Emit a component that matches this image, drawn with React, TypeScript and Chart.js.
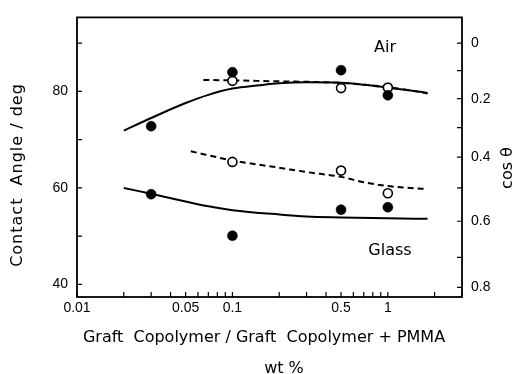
import React, { useEffect, useRef } from "react";
import { Chart, registerables } from "chart.js";

Chart.register(...registerables);

// ---- data ----
const airFilledX = [0.03, 0.1, 0.5, 1];
const airFilledY = [72.8, 84.0, 84.4, 79.2];
const airOpenX = [0.1, 0.5, 1];
const airOpenY = [82.2, 80.7, 80.8];
const glassFilledX = [0.03, 0.1, 0.5, 1];
const glassFilledY = [58.7, 50.1, 55.5, 56.0];
const glassOpenX = [0.1, 0.5, 1];
const glassOpenY = [65.4, 63.6, 58.9];

const airSolidX = [0.02, 0.03, 0.05, 0.07, 0.1, 0.15, 0.2, 0.3, 0.5, 0.7, 1, 1.4, 1.8];
const airSolidY = [71.9, 74.5, 77.6, 79.3, 80.6, 81.3, 81.7, 81.9, 81.8, 81.4, 80.8, 80.2, 79.7];
const airDashX = [0.065, 0.1, 0.2, 0.3, 0.5, 0.7, 1, 1.4, 1.8];
const airDashY = [82.4, 82.3, 82.1, 82.0, 81.8, 81.4, 80.9, 80.2, 79.6];
const glassDashX = [0.054, 0.1, 0.2, 0.3, 0.5, 0.7, 1, 1.4, 1.8];
const glassDashY = [67.6, 65.7, 64.2, 63.3, 62.3, 61.2, 60.4, 60.0, 59.8];
const glassSolidX = [0.02, 0.03, 0.05, 0.07, 0.1, 0.2, 0.3, 0.5, 1, 1.8];
const glassSolidY = [60.0, 58.8, 57.2, 56.2, 55.4, 54.5, 54.1, 53.9, 53.7, 53.6];

// ---- axes ----
const xMin = 0.01;
const xMax = 3;
const xTickValues = [0.01, 0.02, 0.03, 0.04, 0.05, 0.06, 0.07, 0.08, 0.09, 0.1, 0.2, 0.3, 0.4, 0.5, 0.6, 0.7, 0.8, 0.9, 1, 2, 3];
const xTickLabels = ["0.01", "", "", "", "0.05", "", "", "", "", "0.1", "", "", "", "0.5", "", "", "", "", "1", "", ""];
const yMin = 37.4;
const yMax = 95.35;
const yTickValues = [40, 50, 60, 70, 80, 90];
const yTickLabels = ["40", "", "60", "", "80", ""];
// cos θ axis: angle (deg) of each tick as drawn in the reference, and its label
const cosTickAngles = [90, 84.3, 78.5, 72.5, 66.4, 60, 53.1, 45.6, 39.4];
const cosTickLabels = ["0", "", "0.2", "", "0.4", "", "0.6", "", "0.8"];

const FONT = "'DejaVu Sans', 'Noto Sans', sans-serif";
const TICK_FONT = "'Liberation Sans', Arial, sans-serif";

const toPts = (xs: number[], ys: number[]) => xs.map((x, i) => ({ x, y: ys[i] }));

const overlay = {
  id: "overlay",
  afterDraw(chart: any) {
    const { ctx, chartArea } = chart;
    const { left, right, top, bottom } = chartArea;
    ctx.save();
    ctx.strokeStyle = "#000";
    ctx.lineWidth = 1.8;
    ctx.strokeRect(left, top, right - left, bottom - top);
    ctx.lineWidth = 1.2;
    const tl = 5;
    const sx = chart.scales.x;
    const sy = chart.scales.y;
    const sy2 = chart.scales.y2;
    ctx.beginPath();
    sx.ticks.forEach((t: any) => {
      const px = sx.getPixelForValue(t.value);
      ctx.moveTo(px, bottom);
      ctx.lineTo(px, bottom - tl);
    });
    sy.ticks.forEach((t: any) => {
      const py = sy.getPixelForValue(t.value);
      ctx.moveTo(left, py);
      ctx.lineTo(left + tl, py);
    });
    sy2.ticks.forEach((t: any) => {
      const py = sy2.getPixelForValue(t.value);
      ctx.moveTo(right, py);
      ctx.lineTo(right - tl, py);
    });
    ctx.stroke();

    ctx.fillStyle = "#000";
    ctx.textAlign = "center";
    ctx.textBaseline = "middle";
    ctx.font = `16px ${FONT}`;
    ctx.fillText("Air", 385, 48);
    ctx.fillText("Glass", 390, 251);

    ctx.fillText("Graft  Copolymer / Graft  Copolymer + PMMA", 264, 338);
    ctx.fillText("wt %", 284, 369);

    ctx.save();
    ctx.translate(18, 175);
    ctx.rotate(-Math.PI / 2);
    try {
      (ctx as any).letterSpacing = "1px";
    } catch (e) {}
    ctx.fillText("Contact  Angle / deg", 0, 0);
    ctx.restore();

    ctx.save();
    ctx.translate(508, 168);
    ctx.rotate(-Math.PI / 2);
    ctx.fillText("cos θ", 0, 0);
    ctx.restore();
    ctx.restore();
  },
};

export default function App() {
  const ref = useRef<HTMLCanvasElement | null>(null);
  useEffect(() => {
    if (!ref.current) return;
    const lineDs = (label: string, xs: number[], ys: number[], dashed: boolean) => ({
      label,
      data: toPts(xs, ys),
      showLine: true,
      borderColor: "#000",
      borderWidth: 2,
      borderDash: dashed ? [6, 4] : [],
      pointRadius: 0,
      tension: 0.4,
      cubicInterpolationMode: "monotone" as const,
      fill: false,
      order: 2,
    });
    const ptDs = (label: string, xs: number[], ys: number[], filled: boolean) => ({
      label,
      data: toPts(xs, ys),
      showLine: false,
      pointRadius: filled ? 5 : 4.5,
      pointBackgroundColor: filled ? "#000" : "#fff",
      pointBorderColor: "#000",
      pointBorderWidth: filled ? 0.5 : 1.6,
      order: 1,
    });
    const tickFont = { family: TICK_FONT, size: 14 };
    const chart = new Chart(ref.current, {
      type: "scatter",
      data: {
        datasets: [
          lineDs("Air solid", airSolidX, airSolidY, false),
          lineDs("Air dashed", airDashX, airDashY, true),
          lineDs("Glass dashed", glassDashX, glassDashY, true),
          lineDs("Glass solid", glassSolidX, glassSolidY, false),
          ptDs("Air filled", airFilledX, airFilledY, true),
          ptDs("Air open", airOpenX, airOpenY, false),
          ptDs("Glass filled", glassFilledX, glassFilledY, true),
          ptDs("Glass open", glassOpenX, glassOpenY, false),
        ],
      },
      options: {
        animation: false,
        responsive: false,
        maintainAspectRatio: false,
        layout: { padding: { top: 10, left: 0, right: 0, bottom: 0 } },
        plugins: { legend: { display: false }, tooltip: { enabled: false } },
        scales: {
          x: {
            type: "logarithmic",
            min: xMin,
            max: xMax,
            grid: { display: false, drawTicks: false },
            border: { display: false },
            afterBuildTicks: (s: any) => {
              s.ticks = xTickValues.map((v) => ({ value: v }));
            },
            afterFit: (s: any) => {
              s.height = 77;
            },
            ticks: {
              autoSkip: false,
              maxRotation: 0,
              padding: 3,
              color: "#000",
              font: tickFont,
              callback: (_v: any, i: number) => xTickLabels[i],
            },
          },
          y: {
            position: "left",
            min: yMin,
            max: yMax,
            grid: { display: false, drawTicks: false },
            border: { display: false },
            afterBuildTicks: (s: any) => {
              s.ticks = yTickValues.map((v) => ({ value: v }));
            },
            afterFit: (s: any) => {
              s.width = 77;
            },
            ticks: {
              autoSkip: false,
              padding: 9,
              color: "#000",
              font: tickFont,
              callback: (_v: any, i: number) => yTickLabels[i],
            },
          },
          y2: {
            position: "right",
            min: yMin,
            max: yMax,
            grid: { display: false, drawTicks: false },
            border: { display: false },
            afterBuildTicks: (s: any) => {
              s.ticks = cosTickAngles.map((v) => ({ value: v }));
            },
            afterFit: (s: any) => {
              s.width = 55;
            },
            ticks: {
              autoSkip: false,
              padding: 9,
              color: "#000",
              font: tickFont,
              callback: (_v: any, i: number) => cosTickLabels[i],
            },
          },
        },
      },
      plugins: [overlay],
    });
    return () => chart.destroy();
  }, []);
  return (
    <div style={{ position: "absolute", left: 0, top: 0, width: 517, height: 374, background: "#fff" }}>
      <canvas ref={ref} width={517} height={374} style={{ display: "block", width: 517, height: 374 }} />
    </div>
  );
}
